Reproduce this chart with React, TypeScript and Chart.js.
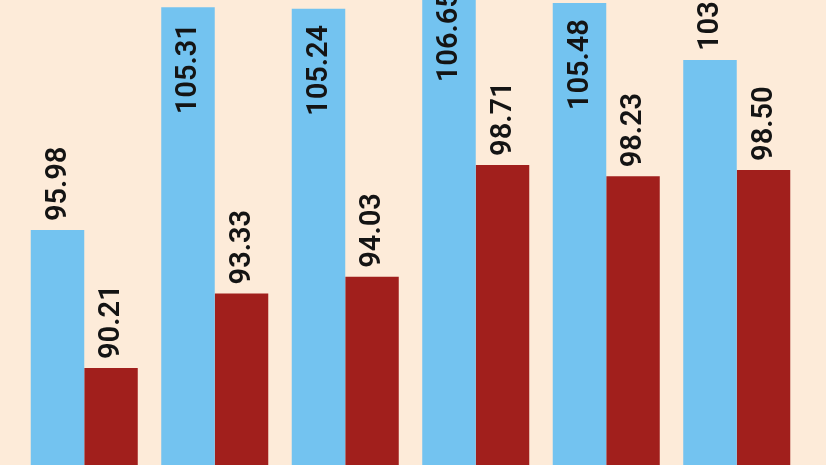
import React, { useEffect, useRef } from "react";
import { Chart, registerables, Plugin } from "chart.js";

Chart.register(...registerables);

// Data
const categories = ["1", "2", "3", "4", "5", "6"];
const blueValues = [95.98, 105.31, 105.24, 106.65, 105.48, 103.1];
const redValues = [90.21, 93.33, 94.03, 98.71, 98.23, 98.5];
// where the value label sits for each blue bar (the red ones are all above)
const blueLabelInside = [false, true, true, true, true, false];

const BG = "#fdebd9";
const BLUE = "#73c3f0";
const RED = "#a11f1c";

const valueLabels: Plugin<"bar"> = {
  id: "valueLabels",
  afterDatasetsDraw(chart) {
    const ctx = chart.ctx;
    ctx.save();
    ctx.fillStyle = "#141414";
    ctx.font = "600 29px Roboto, 'DejaVu Sans Condensed', sans-serif";
    ctx.textBaseline = "middle";
    chart.data.datasets.forEach((ds, di) => {
      const meta = chart.getDatasetMeta(di);
      meta.data.forEach((bar: any, i) => {
        const v = ds.data[i] as number;
        const inside = di === 0 && blueLabelInside[i];
        ctx.save();
        ctx.translate(bar.x, inside ? bar.y + 16 : bar.y - 9);
        ctx.rotate(-Math.PI / 2);
        ctx.textAlign = inside ? "right" : "left";
        ctx.fillText(v.toFixed(2), 0, 1);
        ctx.restore();
      });
    });
    ctx.restore();
  },
};

const App: React.FC = () => {
  const chartRef = useRef<HTMLCanvasElement>(null);
  const chartInstance = useRef<Chart | null>(null);

  useEffect(() => {
    document.body.style.margin = "0";
    if (!chartRef.current) return;
    if (chartInstance.current) chartInstance.current.destroy();

    chartInstance.current = new Chart(chartRef.current, {
      type: "bar",
      data: {
        labels: categories,
        datasets: [
          {
            label: "Series A",
            data: blueValues,
            backgroundColor: BLUE,
            barPercentage: 1,
            categoryPercentage: 0.82,
          },
          {
            label: "Series B",
            data: redValues,
            backgroundColor: RED,
            barPercentage: 1,
            categoryPercentage: 0.82,
          },
        ],
      },
      options: {
        animation: false,
        responsive: false,
        maintainAspectRatio: false,
        layout: { padding: { left: 19, right: 24, top: 0, bottom: 0 } },
        scales: {
          x: { display: false },
          y: { display: false, min: 86.15, max: 105.61 },
        },
        plugins: {
          legend: { display: false },
          tooltip: { enabled: false },
        },
      },
      plugins: [valueLabels],
    });

    return () => {
      if (chartInstance.current) {
        chartInstance.current.destroy();
        chartInstance.current = null;
      }
    };
  }, []);

  return (
    <div style={{ width: 826, height: 465, background: BG }}>
      <canvas ref={chartRef} width={826} height={465} />
    </div>
  );
};

export default App;
